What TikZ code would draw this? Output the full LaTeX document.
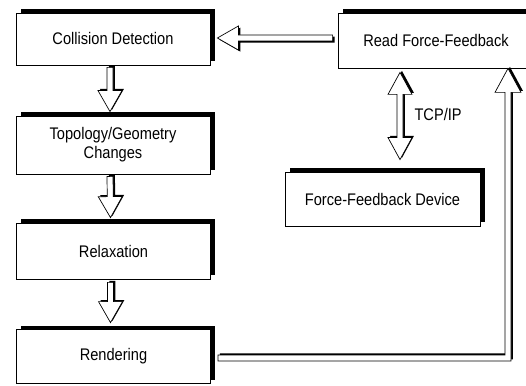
\documentclass[tikz,border=0pt]{standalone}
\usepackage{fontspec}
\setmainfont{Liberation Sans}[FakeStretch=0.87]
\usetikzlibrary{calc, shadows}

\begin{document}
\begin{tikzpicture}[x=1pt, y=1pt,
    stage/.style={draw, fill=white, line width=0.8pt, inner sep=0pt, align=center,
        minimum width=194pt, font=\fontsize{16.8pt}{19pt}\selectfont,
        drop shadow={shadow xshift=4.5pt, shadow yshift=3.5pt, fill=black, opacity=1}},
    hollow/.style={draw, fill=white, line width=0.7pt,
        drop shadow={shadow xshift=1.9pt, shadow yshift=#1, fill=black, opacity=1}},
    hollow/.default=1.6pt,
    blockarr/.style={to path={
        let \p1=(\tikztostart), \p2=(\tikztotarget), \n1={veclen(\x2-\x1,\y2-\y1)},
            \n2={(\x2-\x1)/\n1}, \n3={(\y2-\y1)/\n1} in
        ({\x1-3*\n3},{\y1+3*\n2}) -- ({\x2-21*\n2-3*\n3},{\y2-21*\n3+3*\n2})
        -- ({\x2-21*\n2-12*\n3},{\y2-21*\n3+12*\n2}) -- (\p2)
        -- ({\x2-21*\n2+12*\n3},{\y2-21*\n3-12*\n2}) -- ({\x2-21*\n2+3*\n3},{\y2-21*\n3-3*\n2})
        -- ({\x1+3*\n3},{\y1-3*\n2}) -- cycle}},
    blockdbl/.style={to path={
        let \p1=(\tikztostart), \p2=(\tikztotarget), \n1={veclen(\x2-\x1,\y2-\y1)},
            \n2={(\x2-\x1)/\n1}, \n3={(\y2-\y1)/\n1} in
        (\p1) -- ({\x1+22*\n2+12*\n3},{\y1+22*\n3-12*\n2}) -- ({\x1+22*\n2+3*\n3},{\y1+22*\n3-3*\n2})
        -- ({\x2-22*\n2+3*\n3},{\y2-22*\n3-3*\n2}) -- ({\x2-22*\n2+12*\n3},{\y2-22*\n3-12*\n2})
        -- (\p2) -- ({\x2-22*\n2-12*\n3},{\y2-22*\n3+12*\n2}) -- ({\x2-22*\n2-3*\n3},{\y2-22*\n3+3*\n2})
        -- ({\x1+22*\n2-3*\n3},{\y1+22*\n3+3*\n2}) -- ({\x1+22*\n2-12*\n3},{\y1+22*\n3+12*\n2}) -- cycle}}]
    \useasboundingbox (0,0) rectangle (526,385);

    % left column
    \node[stage, minimum height=52pt] (cd) at (113,346) {Collision Detection};
    \node[stage, minimum height=58pt] (tg) at (113,240) {Topology/Geometry\\Changes};
    \node[stage, minimum height=56pt] (rx) at (113.5,134) {Relaxation};
    \node[stage, minimum height=54pt] (rd) at (113.5,29) {Rendering};

    % right side
    \node[stage, minimum width=196pt, minimum height=55pt] (rf) at (436,344.5) {Read Force-Feedback};
    \node[stage, minimum width=195pt, minimum height=54pt] (fd) at (382.5,186) {Force-Feedback Device};
    \node[anchor=west, font=\fontsize{16.8pt}{19pt}\selectfont] (tcp) at (411,271) {TCP/IP};
    \coordinate (cor) at (508,27);

    \draw[hollow] ($(cd.south)+(-3,-2)$) to[blockarr] ($(tg.north)+(-3,4)$);
    \draw[hollow] ($(tg.south)+(-3,-2)$) to[blockarr] ($(rx.north)+(-3,5)$);
    \draw[hollow] ($(rx.south)+(-3,-3)$) to[blockarr] ($(rd.north)+(-3,6)$);
    \draw[hollow=-1.6pt] ($(rf.west)+(-5,2.5)$) to[blockarr] ($(cd.east)+(7,1)$);
    \draw[hollow] ($(fd.north)+(17.5,12)$) to[blockdbl] ($(rf.south)+(-36,-4)$);

    % rendering back to force feedback
    \draw[hollow] let \p1=($(rd.east)+(7,0)$), \p2=(cor), \p3=(rf.south -| cor) in
        ({\x1},{\y2+3}) -- ({\x2-3},{\y2+3}) -- ({\x2-3},{\y3-24}) -- ({\x2-13},{\y3-24})
        -- (\p3) -- ({\x2+13},{\y3-24}) -- ({\x2+3},{\y3-24}) -- ({\x2+3},{\y2-3})
        -- ({\x1},{\y2-3}) -- cycle;
\end{tikzpicture}
\end{document}
